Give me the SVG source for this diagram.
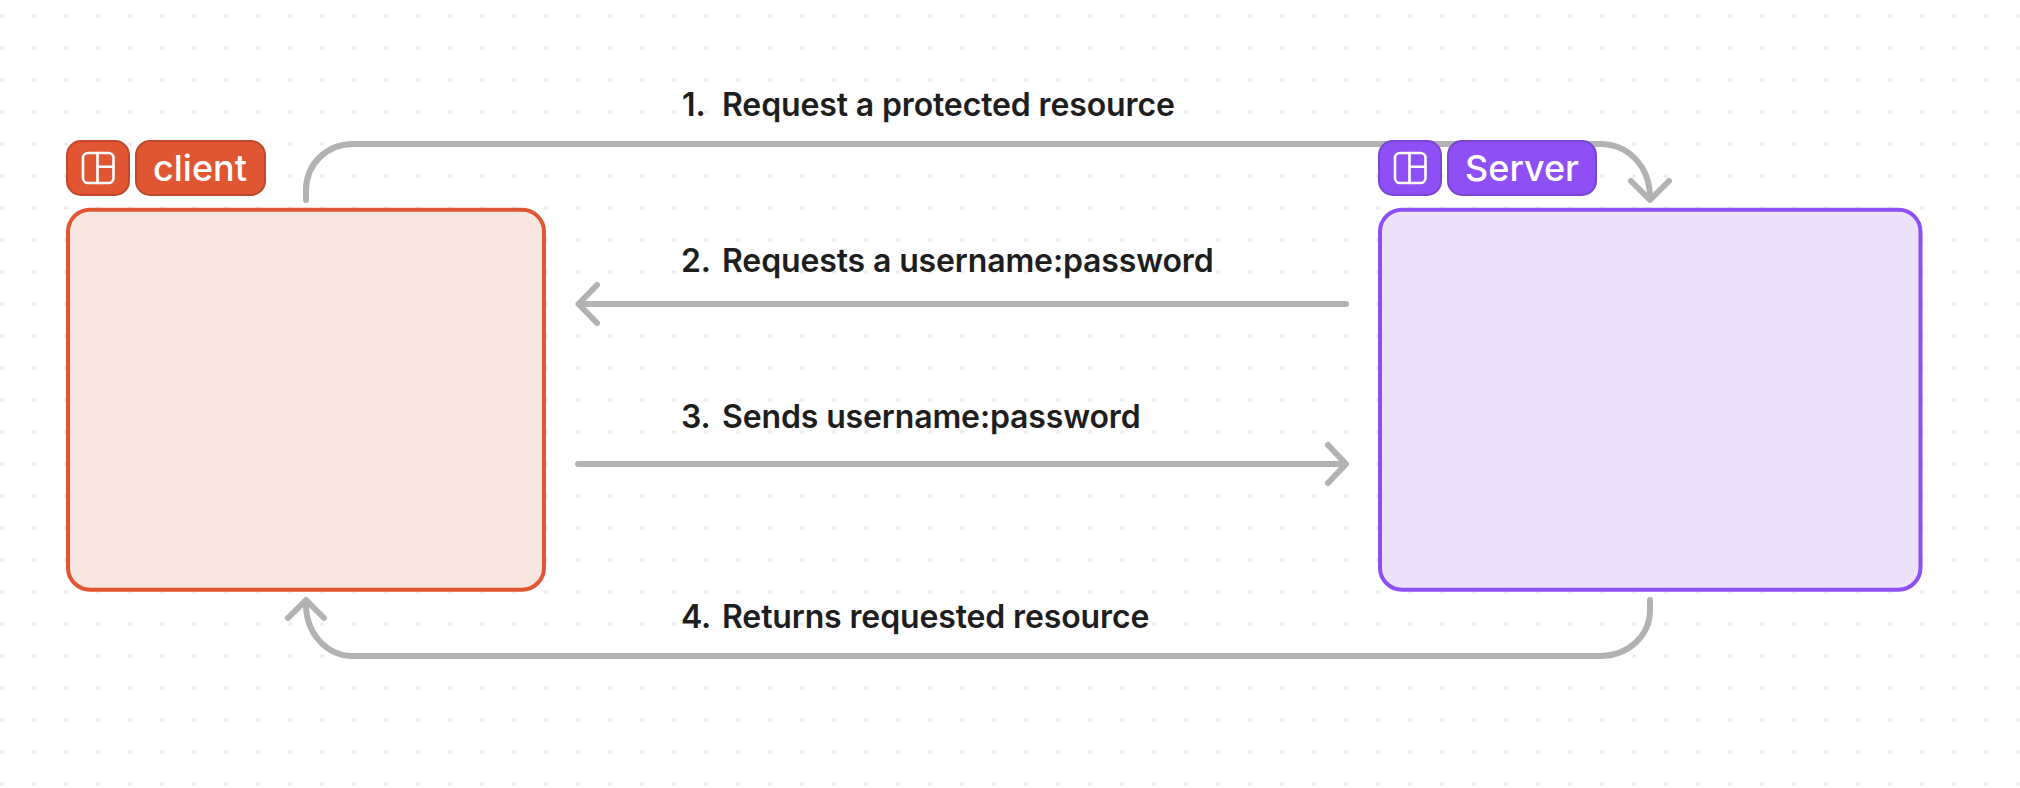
<svg xmlns="http://www.w3.org/2000/svg" width="2020" height="788" viewBox="0 0 2020 788">
<style>
.conn{fill:none;stroke:#b2b2b2;stroke-width:6;stroke-linecap:round;stroke-linejoin:round}
.lbl{font-family:Inter,"Liberation Sans",sans-serif;font-weight:600;font-size:32px;letter-spacing:-0.13px;fill:#1e1e1e}
.tag{font-family:Inter,"Liberation Sans",sans-serif;font-weight:500;font-size:36px;fill:#fff}
.ico{fill:none;stroke:#fff;stroke-width:2.6;stroke-linecap:round}
</style>
<defs>
<pattern id="dots" width="32" height="32" patternUnits="userSpaceOnUse"><circle cx="2" cy="16" r="2" fill="#ececec"/></pattern>
</defs>
<rect width="2020" height="788" fill="#fff"/>
<rect width="2020" height="788" fill="url(#dots)"/>
<g id="connectors">
<path class="conn" d="M306 200V190C306 164 327 144 353 144H1600C1628 144 1650 166 1650 198"/>
<path class="conn" d="M1631 181L1650 200L1669 181"/>
<path class="conn" d="M1346 304H579"/>
<path class="conn" d="M597 285L578.500 304L597 323"/>
<path class="conn" d="M578 464H1345"/>
<path class="conn" d="M1328 445L1346 464L1328 483"/>
<path class="conn" d="M1650 600V610C1650 636 1628 656 1600 656H353C327 656 306 634 306 604"/>
<path class="conn" d="M288 618L306 600L324 618"/>
</g>
<g id="client">
<rect x="68" y="209.700" width="476" height="380" rx="22" fill="#f8e6e0" stroke="#e15632" stroke-width="4"/>
<g id="client-icon">
<rect x="67" y="141" width="62" height="54" rx="14" fill="#e15632" stroke="#bf4a2b" stroke-width="2"/>
<rect class="ico" x="83" y="153" width="30.500" height="30" rx="5"/>
<path class="ico" d="M97.500 153V183M97.500 166.800H113.500"/>
</g>
<g id="client-tag">
<rect x="136" y="141" width="129" height="54" rx="14" fill="#e15632" stroke="#bf4a2b" stroke-width="2"/>
<text class="tag" x="153" y="180.700">client</text>
</g>
</g>
<g id="server">
<rect x="1380" y="209.700" width="540.500" height="380" rx="22" fill="#ece2fc" stroke="#8e4ff5" stroke-width="4"/>
<g id="server-icon">
<rect x="1379" y="141" width="62" height="54" rx="14" fill="#8e4ff5" stroke="#7a45d0" stroke-width="2"/>
<rect class="ico" x="1395" y="153" width="30.500" height="30" rx="5"/>
<path class="ico" d="M1409.500 153V183M1409.500 166.800H1425.500"/>
</g>
<g id="server-tag">
<rect x="1448" y="141" width="148" height="54" rx="14" fill="#8e4ff5" stroke="#7a45d0" stroke-width="2"/>
<text class="tag" x="1465" y="180.700">Server</text>
</g>
</g>
<g id="labels">
<text class="lbl" y="116.200"><tspan x="682">1.</tspan><tspan x="722">Request a protected resource</tspan></text>
<text class="lbl" y="272.200"><tspan x="681">2.</tspan><tspan x="722">Requests a username:password</tspan></text>
<text class="lbl" y="428.200"><tspan x="681">3.</tspan><tspan x="722">Sends username:password</tspan></text>
<text class="lbl" y="628.200"><tspan x="681">4.</tspan><tspan x="722">Returns requested resource</tspan></text>
</g>
</svg>
